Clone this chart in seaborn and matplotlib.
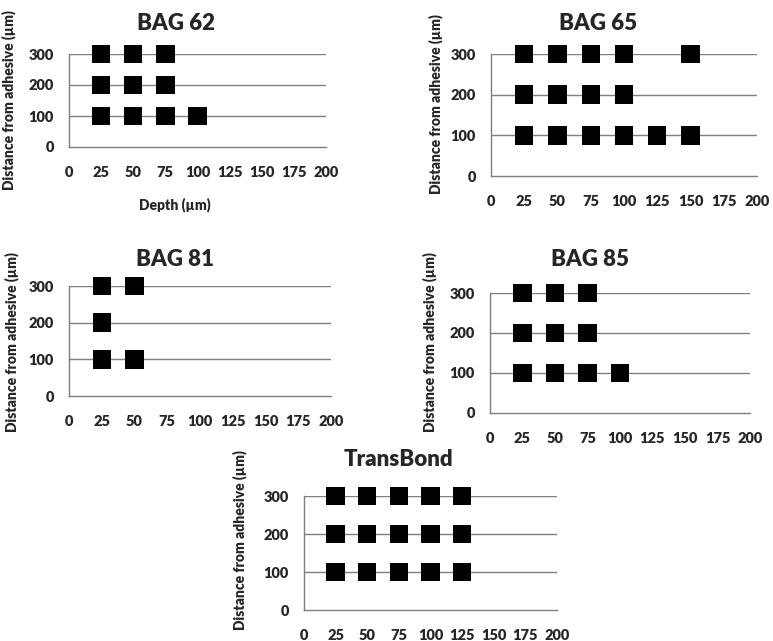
import pandas as pd
import seaborn as sns
import matplotlib.pyplot as plt

# depths (um) where squares appear, per panel and distance from adhesive
bag62_d300 = [25, 50, 75]
bag62_d200 = [25, 50, 75]
bag62_d100 = [25, 50, 75, 100]

bag65_d300 = [25, 50, 75, 100, 150]
bag65_d200 = [25, 50, 75, 100]
bag65_d100 = [25, 50, 75, 100, 125, 150]

bag81_d300 = [25, 50]
bag81_d200 = [25]
bag81_d100 = [25, 50]

bag85_d300 = [25, 50, 75]
bag85_d200 = [25, 50, 75]
bag85_d100 = [25, 50, 75, 100]

transbond_d300 = [25, 50, 75, 100, 125]
transbond_d200 = [25, 50, 75, 100, 125]
transbond_d100 = [25, 50, 75, 100, 125]

titles = ["BAG 62", "BAG 65", "BAG 81", "BAG 85", "TransBond"]
x_ticks = [0, 25, 50, 75, 100, 125, 150, 175, 200]
y_ticks = [0, 100, 200, 300]


def to_frame(d300, d200, d100):
    rows = [(x, 300) for x in d300] + [(x, 200) for x in d200] + [(x, 100) for x in d100]
    return pd.DataFrame(rows, columns=["depth", "distance"])


frames = [
    to_frame(bag62_d300, bag62_d200, bag62_d100),
    to_frame(bag65_d300, bag65_d200, bag65_d100),
    to_frame(bag81_d300, bag81_d200, bag81_d100),
    to_frame(bag85_d300, bag85_d200, bag85_d100),
    to_frame(transbond_d300, transbond_d200, transbond_d100),
]

sns.set_style("white")
plt.rcParams['font.family'] = ['Lato', 'DejaVu Sans']
plt.rcParams['font.weight'] = 'bold'

W, H = 773, 641
fig = plt.figure(figsize=(W / 100, H / 100), dpi=100)

# axes boxes in pixels: left, right, y of 0, y of 300
boxes = [(69, 326, 147, 54), (491, 757, 176, 54), (69, 331, 396, 286),
         (490, 750, 413, 293), (304, 557, 610, 496)]
# title centers and y-label centers in pixels
title_pos = [(176, 23), (598, 23), (175, 260), (590, 260), (398, 460)]
ylab_pos = [(9, 100), (436, 104), (12, 342), (430, 342), (240, 540)]

grey = "#7f7f7f"

for i, df in enumerate(frames):
    l, r, yb, yt = boxes[i]
    ax = fig.add_axes([l / W, 1 - yb / H, (r - l) / W, (yb - yt) / H])
    sns.scatterplot(data=df, x="depth", y="distance", ax=ax, marker="s", s=175,
                    color="black", edgecolor="none", clip_on=False, zorder=3)
    ax.set_xlim(0, 200)
    ax.set_ylim(0, 300)
    ax.set_xticks(x_ticks)
    ax.set_yticks(y_ticks)
    ax.set_xlabel("")
    ax.set_ylabel("")
    for y in y_ticks[1:]:
        ax.axhline(y, color=grey, lw=1, zorder=1)
    sns.despine(ax=ax)
    for s in ["left", "bottom"]:
        ax.spines[s].set_color(grey)
        ax.spines[s].set_linewidth(1)
    ax.tick_params(axis="x", direction="out", length=4, width=1, color=grey,
                   pad=10, labelsize=10.5)
    ax.tick_params(axis="y", direction="out", length=4, width=1, color=grey,
                   pad=7, labelsize=10.5)
    for lab in ax.get_xticklabels() + ax.get_yticklabels():
        lab.set_fontweight("heavy")
    tx, ty = title_pos[i]
    fig.text(tx / W, 1 - ty / H, titles[i], ha="center", va="center",
             fontsize=16, fontweight="heavy")
    lx, ly = ylab_pos[i]
    fig.text(lx / W, 1 - ly / H, "Distance from adhesive (µm)", rotation=90,
             ha="center", va="center", fontsize=10, fontweight="heavy")

fig.text(175 / W, 1 - 205 / H, "Depth (µm)", ha="center", va="center",
         fontsize=10, fontweight="heavy")

fig.savefig("out.png", dpi=100)
